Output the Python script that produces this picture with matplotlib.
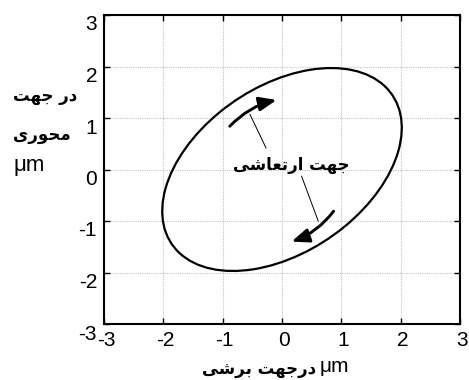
import matplotlib

matplotlib.use("Agg")
import matplotlib.pyplot as plt
from matplotlib.patches import Ellipse, FancyArrowPatch
from matplotlib.transforms import ScaledTranslation

# tool-tip orbit (ellipse, in um)
orbit_center = (0.0, 0.0)
orbit_width = 4.74
orbit_height = 3.06
orbit_angle = 43.3

axis_ticks = [-3, -2, -1, 0, 1, 2, 3]

# direction arrows as (tail, head)
arrow_upper = ((-0.88, 0.84), (-0.09, 1.35))
arrow_lower = ((0.87, -0.81), (0.16, -1.40))

# thin leader lines from the label to the arrows
leader_upper = ((-0.54, 1.07), (-0.27, 0.42))
leader_lower = ((0.33, -0.13), (0.61, -1.00))
label_pos = (0.15, 0.09)

xlabel_fa = "درجهت برشی"
ylabel_fa = ["در جهت", "محوری"]
arrow_label_fa = "جهت ارتعاشی"
unit = "μm"

# matplotlib has no arabic shaping, so map letters to presentation forms
FORMS = {
    "ا": ("\ufe8d", "\ufe8e", None, None),
    "ب": ("\ufe8f", "\ufe90", "\ufe91", "\ufe92"),
    "ت": ("\ufe95", "\ufe96", "\ufe97", "\ufe98"),
    "ج": ("\ufe9d", "\ufe9e", "\ufe9f", "\ufea0"),
    "ح": ("\ufea1", "\ufea2", "\ufea3", "\ufea4"),
    "د": ("\ufea9", "\ufeaa", None, None),
    "ر": ("\ufead", "\ufeae", None, None),
    "ش": ("\ufeb5", "\ufeb6", "\ufeb7", "\ufeb8"),
    "ع": ("\ufec9", "\ufeca", "\ufecb", "\ufecc"),
    "م": ("\ufee1", "\ufee2", "\ufee3", "\ufee4"),
    "ه": ("\ufee9", "\ufeea", "\ufeeb", "\ufeec"),
    "و": ("\ufeed", "\ufeee", None, None),
    "ی": ("\ufbfc", "\ufbfd", "\ufbfe", "\ufbff"),
}


def farsi(text):
    out = []
    for i, ch in enumerate(text):
        if ch not in FORMS:
            out.append(ch)
            continue
        prev = text[i - 1] if i > 0 else ""
        nxt = text[i + 1] if i + 1 < len(text) else ""
        join_prev = prev in FORMS and FORMS[prev][2] is not None
        join_next = FORMS[ch][2] is not None and nxt in FORMS
        iso, fin, ini, med = FORMS[ch]
        if join_prev and join_next:
            out.append(med)
        elif join_prev:
            out.append(fin)
        elif join_next:
            out.append(ini)
        else:
            out.append(iso)
    return "".join(reversed(out))


W, H = 469, 380
fig = plt.figure(figsize=(W / 100, H / 100), dpi=100)
ax = fig.add_axes([104 / W, 1 - 324 / H, 356 / W, 309 / H])

ax.add_patch(
    Ellipse(orbit_center, orbit_width, orbit_height, angle=orbit_angle,
            fill=False, edgecolor="black", linewidth=1.6)
)

for tail, head in (arrow_upper, arrow_lower):
    ax.add_patch(
        FancyArrowPatch(tail, head, connectionstyle="arc3,rad=-0.15",
                        arrowstyle="-|>,head_length=0.75,head_width=0.3",
                        mutation_scale=14, color="black", linewidth=2.1,
                        shrinkA=0, shrinkB=0)
    )

for (x0, y0), (x1, y1) in (leader_upper, leader_lower):
    ax.plot([x0, x1], [y0, y1], color="black", linewidth=0.7)

ax.text(label_pos[0], label_pos[1], farsi(arrow_label_fa), ha="center", va="center",
        fontsize=12, fontweight="bold", family=["DejaVu Sans"])

ax.set_xlim(-3, 3)
ax.set_ylim(-3, 3)
ax.set_xticks(axis_ticks)
ax.set_yticks(axis_ticks)
ax.set_xticklabels([str(t) for t in axis_ticks])
ax.set_yticklabels([str(t) for t in axis_ticks])
ax.grid(True, color="#c4c4c4", linestyle=(0, (1, 1)), linewidth=0.8)
ax.set_axisbelow(True)
ax.tick_params(direction="in", top=True, right=True, length=4, width=1,
               labelsize=15)
ax.tick_params(axis="x", pad=5)
ax.tick_params(axis="y", pad=5)
for sp in ax.spines.values():
    sp.set_linewidth(1.5)

# the exported figure has its tick labels nudged a few pixels
y_shift = ScaledTranslation(0, -0.08, fig.dpi_scale_trans)
x_shift = ScaledTranslation(0.02, 0, fig.dpi_scale_trans)
for lbl in ax.get_yticklabels():
    lbl.set_family("Liberation Sans")
    lbl.set_transform(lbl.get_transform() + y_shift)
for lbl in ax.get_xticklabels():
    lbl.set_family("Liberation Sans")
    lbl.set_transform(lbl.get_transform() + x_shift)

# y label, three stacked lines on the left
fig.text(13 / W, 1 - 96 / H, farsi(ylabel_fa[0]), ha="left", va="center",
         fontsize=12, fontweight="bold", family=["DejaVu Sans"])
fig.text(13 / W, 1 - 136 / H, farsi(ylabel_fa[1]), ha="left", va="center",
         fontsize=12, fontweight="bold", family=["DejaVu Sans"])
fig.text(13 / W, 1 - 166 / H, unit, ha="left", va="center",
         fontsize=16, family=["Liberation Sans"])

# x label
fig.text(316 / W, 1 - 369 / H, farsi(xlabel_fa), ha="right", va="center",
         fontsize=12, fontweight="bold", family=["DejaVu Sans"])
fig.text(320 / W, 1 - 366 / H, unit, ha="left", va="center",
         fontsize=15, family=["Liberation Sans"])

fig.savefig("out.png", dpi=100)
